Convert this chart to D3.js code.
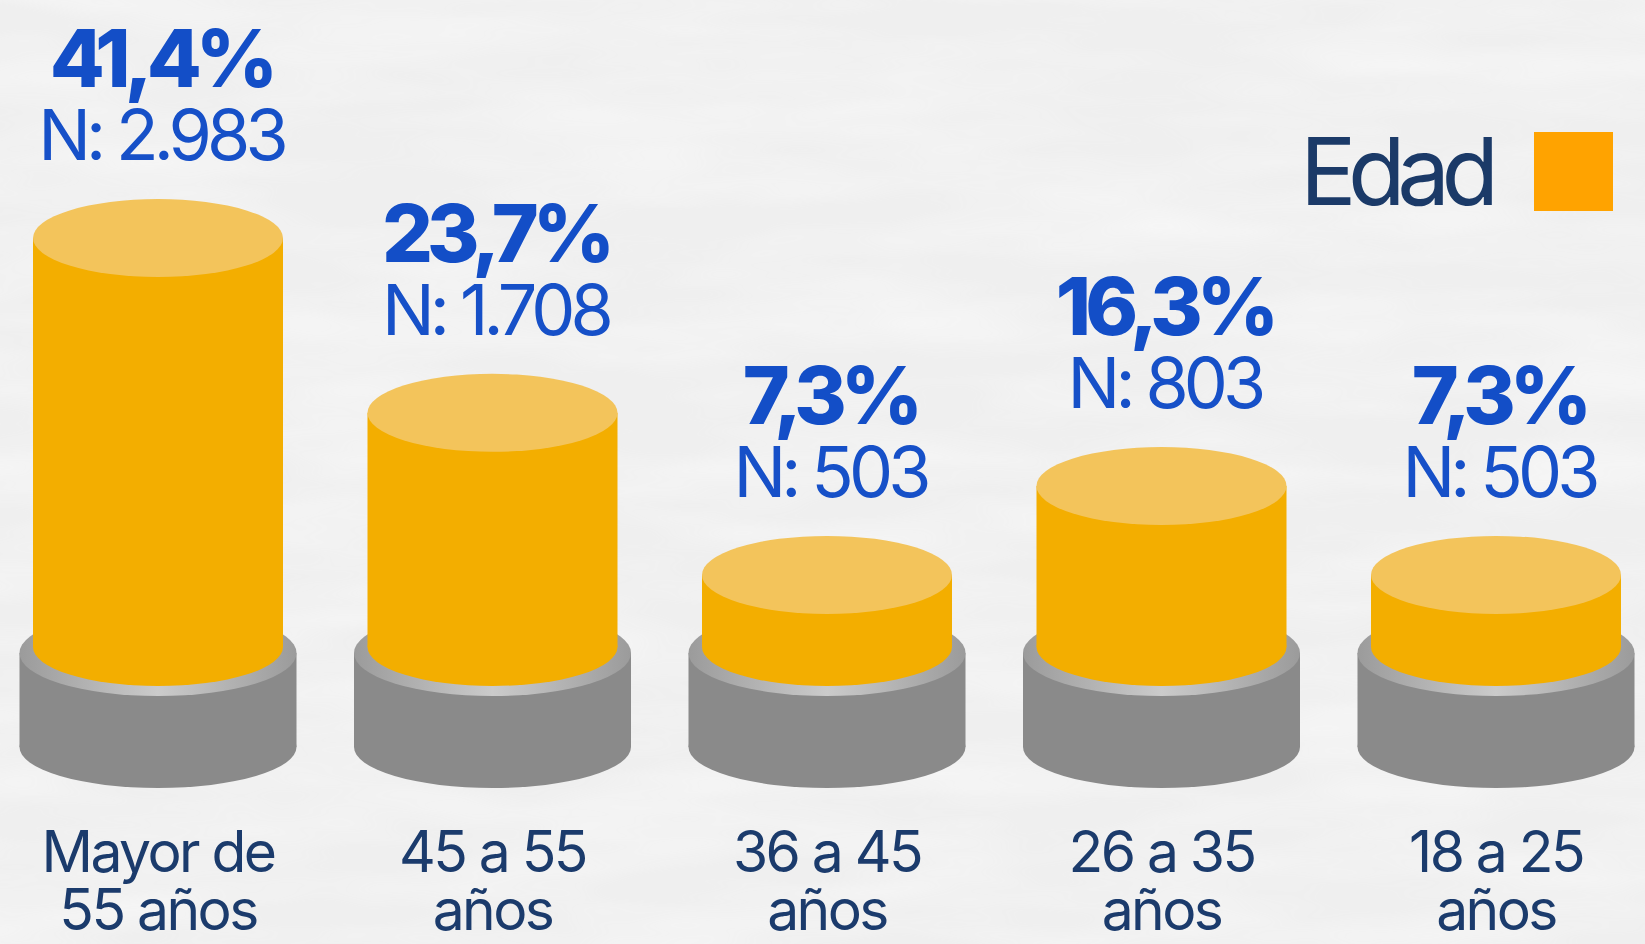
<!DOCTYPE html>
<html lang="es">
<head>
<meta charset="utf-8">
<title>Edad</title>
<script src="https://cdn.jsdelivr.net/npm/d3@7"></script>
<style>
  html, body { margin: 0; padding: 0; background: #f0f0f0; }
  svg { display: block; }
</style>
</head>
<body>
<svg id="chart" width="1645" height="944"></svg>
<script>
// Age groups, share of respondents and counts
const categories = [["Mayor de", "55 años"], ["45 a 55", "años"], ["36 a 45", "años"], ["26 a 35", "años"], ["18 a 25", "años"]];
const percentages = [41.4, 23.7, 7.3, 16.3, 7.3];
const percentLabels = ["41,4%", "23,7%", "7,3%", "16,3%", "7,3%"];
const counts = ["2.983", "1.708", "503", "803", "503"];
const legendLabel = "Edad";

const W = 1645, H = 944;
const svg = d3.select("#chart");

const defs = svg.append("defs");

// paper-like background texture
const tex = defs.append("filter").attr("id", "paper").attr("x", 0).attr("y", 0).attr("width", 1).attr("height", 1);
tex.append("feTurbulence").attr("type", "fractalNoise").attr("baseFrequency", "0.004 0.02").attr("numOctaves", 3).attr("seed", 7).attr("result", "n");
tex.append("feColorMatrix").attr("type", "matrix")
  .attr("values", "0 0 0 0 1  0 0 0 0 1  0 0 0 0 1  0 0 0 0.9 -0.3");

const ring = defs.append("linearGradient").attr("id", "ring").attr("x1", "0%").attr("x2", "100%").attr("y1", "0%").attr("y2", "0%");
ring.append("stop").attr("offset", "0%").attr("stop-color", "#9b9b9b");
ring.append("stop").attr("offset", "50%").attr("stop-color", "#cbcbcb");
ring.append("stop").attr("offset", "100%").attr("stop-color", "#9b9b9b");

svg.append("rect").attr("width", W).attr("height", H).attr("fill", "#efefef");
svg.append("rect").attr("width", W).attr("height", H).attr("filter", "url(#paper)").attr("opacity", 0.8);

// scales
const x = d3.scalePoint().domain(d3.range(categories.length)).range([158, 1496]);
const baseY = 647;   // centre of the bottom face of every cylinder
const y = d3.scaleLinear().domain([0, d3.max(percentages)]).range([baseY, 238]);

const rx = 125, ry = 39;          // cylinder
const brx = 138.5, bry = 43;      // pedestal
const pedTop = 653, pedBottom = 747;

const g = svg.append("g");
const bars = g.selectAll("g.bar").data(percentages).join("g").attr("class", "bar")
  .attr("transform", (d, i) => `translate(${x(i)},0)`);

// pedestal
bars.append("ellipse").attr("cx", 0).attr("cy", pedBottom).attr("rx", brx).attr("ry", 41).attr("fill", "#8a8a8a");
bars.append("rect").attr("x", -brx).attr("y", pedTop).attr("width", brx * 2).attr("height", pedBottom - pedTop).attr("fill", "#8a8a8a");
bars.append("ellipse").attr("cx", 0).attr("cy", pedTop).attr("rx", brx).attr("ry", bry).attr("fill", "url(#ring)");

// cylinder
bars.append("ellipse").attr("cx", 0).attr("cy", baseY).attr("rx", rx).attr("ry", ry).attr("fill", "#f3ae00");
bars.append("rect").attr("x", -rx).attr("y", d => y(d)).attr("width", rx * 2).attr("height", d => baseY - y(d)).attr("fill", "#f3ae00");
bars.append("ellipse").attr("cx", 0).attr("cy", d => y(d)).attr("rx", rx).attr("ry", ry).attr("fill", "#f3c45b");

// value label: percentage (bold) above the count
const label = bars.append("text")
  .attr("text-anchor", "middle")
  .attr("font-family", "Inter, 'Noto Sans', sans-serif");
label.append("tspan")
  .attr("x", 3).attr("y", d => y(d) - ry - 39 - 73)
  .attr("font-size", 80).attr("font-weight", 800)
  .attr("letter-spacing", "-0.075em")
  .attr("fill", "#134ec7")
  .text((d, i) => percentLabels[i]);
label.append("tspan")
  .attr("x", 3).attr("y", d => y(d) - ry - 39)
  .attr("font-size", 70).attr("font-weight", 400)
  .attr("letter-spacing", "-0.07em")
  .attr("fill", "#1650c8")
  .text((d, i) => "N: " + counts[i]);

// category labels
bars.append("text")
  .attr("text-anchor", "middle")
  .attr("font-family", "Inter, 'Noto Sans', sans-serif").attr("font-size", 57).attr("font-weight", 400)
  .attr("letter-spacing", "-0.045em")
  .attr("fill", "#1b3b6c")
  .selectAll("tspan").data((d, i) => categories[i]).join("tspan")
  .attr("x", 0).attr("y", (d, j) => 872 + j * 58)
  .text(d => d);

// legend
const legend = svg.append("g");
legend.append("text")
  .attr("x", 1300).attr("y", 205)
  .attr("font-family", "Inter, 'Noto Sans', sans-serif").attr("font-size", 94).attr("font-weight", 400)
  .attr("letter-spacing", "-0.09em")
  .attr("fill", "#1b3a68")
  .text(legendLabel);
legend.append("rect").attr("x", 1534).attr("y", 132).attr("width", 79).attr("height", 79).attr("fill", "#ffa300");
</script>
</body>
</html>
